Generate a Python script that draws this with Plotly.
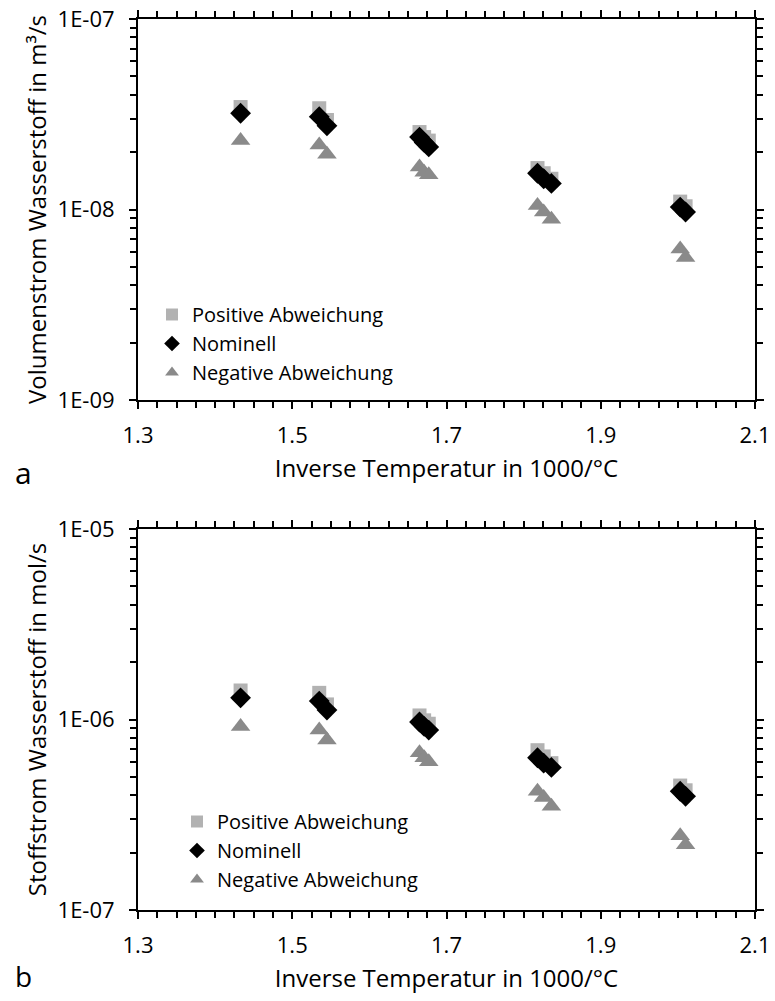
import plotly.graph_objects as go
from plotly.subplots import make_subplots

# Inverse temperature (1000/°C) of each measurement
inv_temp = [1.433, 1.535, 1.545, 1.665, 1.671, 1.677,
            1.818, 1.826, 1.836, 2.003, 2.010]

# Panel a: hydrogen volume flow in m³/s
vol_pos = [3.45e-8, 3.40e-8, 2.95e-8, 2.55e-8, 2.40e-8, 2.30e-8,
           1.65e-8, 1.55e-8, 1.45e-8, 1.10e-8, 1.04e-8]
vol_nom = [3.20e-8, 3.07e-8, 2.75e-8, 2.40e-8, 2.25e-8, 2.13e-8,
           1.55e-8, 1.45e-8, 1.37e-8, 1.03e-8, 0.97e-8]
vol_neg = [2.30e-8, 2.18e-8, 1.95e-8, 1.67e-8, 1.57e-8, 1.52e-8,
           1.05e-8, 0.97e-8, 0.89e-8, 6.2e-9, 5.6e-9]

# Panel b: hydrogen molar flow in mol/s
mol_pos = [1.42e-6, 1.38e-6, 1.20e-6, 1.05e-6, 0.99e-6, 0.95e-6,
           6.9e-7, 6.4e-7, 5.9e-7, 4.5e-7, 4.25e-7]
mol_nom = [1.30e-6, 1.25e-6, 1.12e-6, 0.97e-6, 0.92e-6, 0.88e-6,
           6.3e-7, 5.9e-7, 5.6e-7, 4.2e-7, 3.95e-7]
mol_neg = [9.2e-7, 8.8e-7, 7.8e-7, 6.7e-7, 6.3e-7, 6.0e-7,
           4.2e-7, 3.9e-7, 3.5e-7, 2.45e-7, 2.2e-7]

series_names = ["Positive Abweichung", "Nominell", "Negative Abweichung"]
x_ticks = [1.3, 1.5, 1.7, 1.9, 2.1]
ya_ticks = [1e-9, 1e-8, 1e-7]
ya_text = ["1E-09", "1E-08", "1E-07"]
yb_ticks = [1e-7, 1e-6, 1e-5]
yb_text = ["1E-07", "1E-06", "1E-05"]

FONT = "Open Sans, Noto Sans, sans-serif"
W, H = 775, 1001
styles = [
    dict(symbol="square", color="#b2b2b2", size=14),
    dict(symbol="diamond", color="#000000", size=16),
    dict(symbol="triangle-up", color="#8a8a8a", size=17),
]

fig = make_subplots(rows=2, cols=1)

for row, data, leg in [(1, [vol_pos, vol_nom, vol_neg], "legend"),
                       (2, [mol_pos, mol_nom, mol_neg], "legend2")]:
    for name, ys, st in zip(series_names, data, styles):
        fig.add_trace(go.Scatter(
            x=inv_temp, y=ys, mode="markers", name=name,
            marker=dict(symbol=st["symbol"], color=st["color"], size=st["size"],
                        line=dict(width=0)),
            legend=leg, showlegend=True), row=row, col=1)


def minor_log(lo_exp, hi_exp):
    vals = []
    for e in range(lo_exp, hi_exp):
        for m in range(2, 10):
            vals.append(m * 10.0 ** e)
    return vals


x0, x1 = 138 / W, 755 / W
dom_a = [1 - 400 / H, 1 - 19 / H]
dom_b = [1 - 910 / H, 1 - 529 / H]

TICK_FONT = dict(family=FONT, size=22, color="black")
TITLE_FONT = dict(family=FONT, size=24, color="black")

xcommon = dict(range=[1.3, 2.1], tickvals=x_ticks, ticktext=[f"{v:.1f}" for v in x_ticks],
               showgrid=False, zeroline=False, showline=True, linecolor="black",
               linewidth=2, mirror="ticks", ticks="outside", ticklen=7, tickwidth=2,
               tickcolor="black", ticklabelstandoff=8,
               minor=dict(ticks="outside", ticklen=6, tickwidth=2, tickcolor="black",
                          dtick=0.025, tick0=1.3, showgrid=False),
               tickfont=TICK_FONT,
               title=dict(text="Inverse Temperatur in 1000/°C", font=TITLE_FONT,
                          standoff=12),
               domain=[x0, x1], automargin=False)

ycommon = dict(type="log", showgrid=False, zeroline=False, showline=True,
               linecolor="black", linewidth=2, mirror="ticks", ticks="outside",
               ticklen=7, tickwidth=2, tickcolor="black", ticklabelstandoff=10,
               tickfont=TICK_FONT, automargin=False)

fig.update_xaxes(**xcommon, row=1, col=1)
fig.update_xaxes(**xcommon, row=2, col=1)

fig.update_yaxes(**ycommon, range=[-9, -7], tickvals=ya_ticks, ticktext=ya_text,
                 minor=dict(ticks="outside", ticklen=6, tickwidth=2, tickcolor="black",
                            tickvals=minor_log(-9, -7), showgrid=False),
                 title=dict(text="Volumenstrom Wasserstoff in m³/s", font=TITLE_FONT,
                            standoff=4),
                 domain=dom_a, row=1, col=1)
fig.update_yaxes(**ycommon, range=[-7, -5], tickvals=yb_ticks, ticktext=yb_text,
                 minor=dict(ticks="outside", ticklen=6, tickwidth=2, tickcolor="black",
                            tickvals=minor_log(-7, -5), showgrid=False),
                 title=dict(text="Stoffstrom Wasserstoff in mol/s", font=TITLE_FONT,
                            standoff=4),
                 domain=dom_b, row=2, col=1)

legend_style = dict(font=dict(family=FONT, size=20, color="black"),
                    bgcolor="rgba(0,0,0,0)", borderwidth=0,
                    xanchor="left", yanchor="top", itemsizing="constant",
                    tracegroupgap=0)

fig.update_layout(
    width=W, height=H,
    margin=dict(l=0, r=0, t=0, b=0),
    paper_bgcolor="white", plot_bgcolor="white",
    legend=dict(x=152 / W, y=1 - 295 / H, **legend_style),
    legend2=dict(x=177 / W, y=1 - 802 / H, **legend_style),
    annotations=[
        dict(text="a", x=13 / W, y=1 - 472 / H, xref="paper", yref="paper",
             xanchor="left", yanchor="middle", showarrow=False,
             font=dict(family=FONT, size=30, color="black")),
        dict(text="b", x=13 / W, y=1 - 976 / H, xref="paper", yref="paper",
             xanchor="left", yanchor="middle", showarrow=False,
             font=dict(family=FONT, size=28, color="black")),
    ],
)

fig.write_html("out.html")
